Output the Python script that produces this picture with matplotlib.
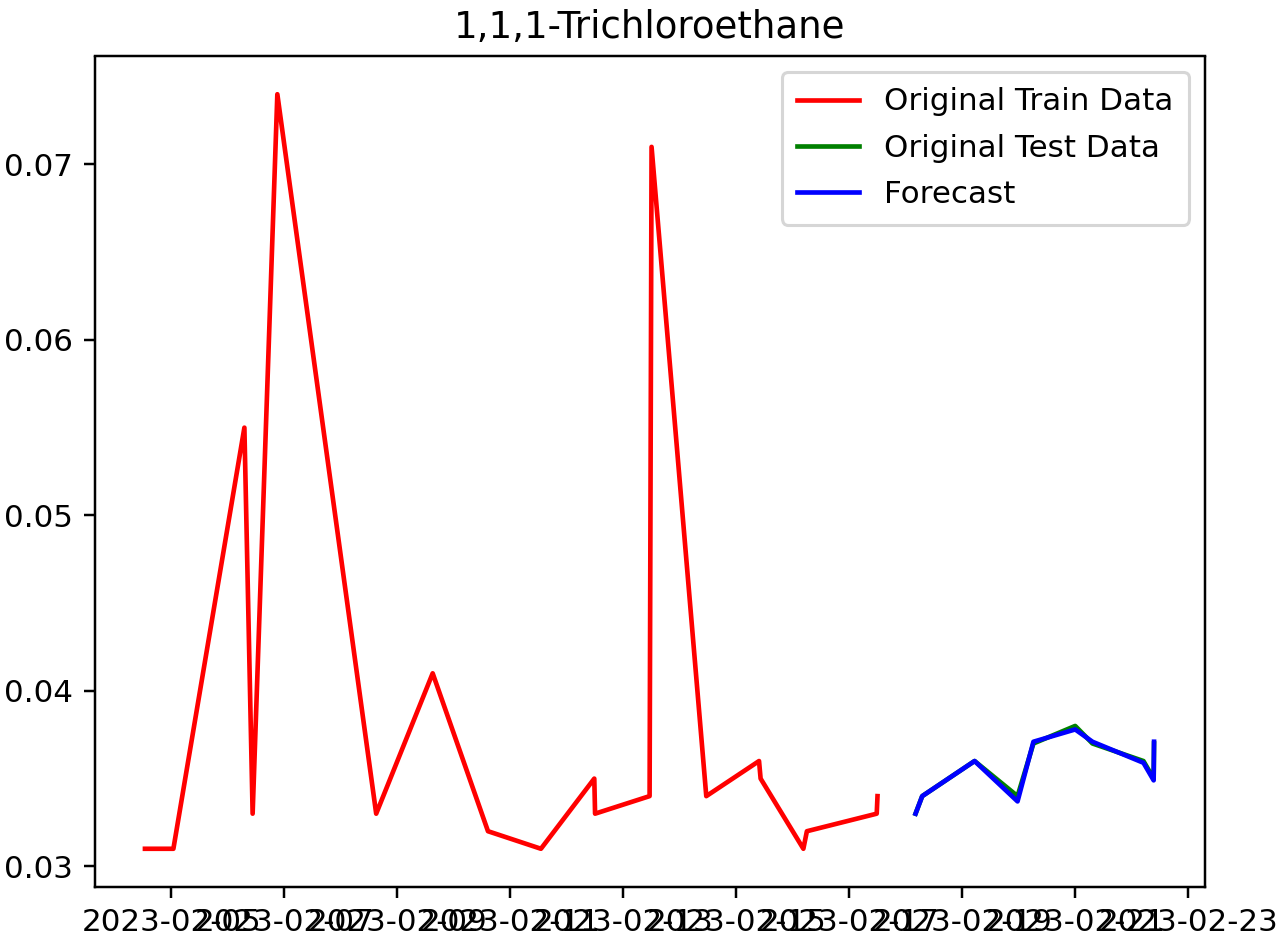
import matplotlib
matplotlib.use("Agg")
import matplotlib.pyplot as plt
import matplotlib.dates as mdates
import pandas as pd

train_dates = pd.to_datetime([
    "2023-02-04 12:45", "2023-02-05 00:50", "2023-02-06 07:00", "2023-02-06 10:30",
    "2023-02-06 21:00", "2023-02-08 15:00", "2023-02-09 15:00", "2023-02-10 14:30",
    "2023-02-11 13:00", "2023-02-12 11:40", "2023-02-12 12:00", "2023-02-13 11:10",
    "2023-02-13 12:00", "2023-02-14 11:15", "2023-02-15 09:40", "2023-02-15 10:20",
    "2023-02-16 04:30", "2023-02-16 06:00", "2023-02-17 11:40", "2023-02-17 12:00",
])
train_values = [0.031, 0.031, 0.055, 0.033, 0.074, 0.033, 0.041, 0.032, 0.031, 0.035,
                0.033, 0.034, 0.071, 0.034, 0.036, 0.035, 0.031, 0.032, 0.033, 0.034]

test_dates = pd.to_datetime([
    "2023-02-18 04:10", "2023-02-18 07:00", "2023-02-19 05:15", "2023-02-19 23:30",
    "2023-02-20 06:15", "2023-02-21 00:00", "2023-02-21 07:20", "2023-02-22 05:00",
    "2023-02-22 09:20", "2023-02-22 09:30",
])
test_values = [0.033, 0.034, 0.036, 0.034, 0.037, 0.038, 0.037, 0.036, 0.035, 0.037]
forecast_values = [0.0330, 0.0340, 0.0360, 0.0337, 0.0371, 0.0378, 0.0371, 0.0359, 0.0349, 0.0371]

title = "1,1,1-Trichloroethane"

DPI = 223
fig = plt.figure(figsize=(1280 / DPI, 939 / DPI), dpi=DPI)
ax = fig.add_axes([94.5 / 1280, 52.5 / 939, 1110 / 1280, 830 / 939])

ax.plot(train_dates, train_values, color="red", label="Original Train Data")
ax.plot(test_dates, test_values, color="green", label="Original Test Data")
ax.plot(test_dates, forecast_values, color="blue", label="Forecast")

ax.xaxis.set_major_locator(mdates.DayLocator(bymonthday=range(1, 32, 2)))
ax.xaxis.set_major_formatter(mdates.DateFormatter("%Y-%m-%d"))
ax.set_title(title)
ax.legend(loc="upper right", labelspacing=0.56, borderpad=0.5)

fig.savefig("out.png", dpi=DPI)
